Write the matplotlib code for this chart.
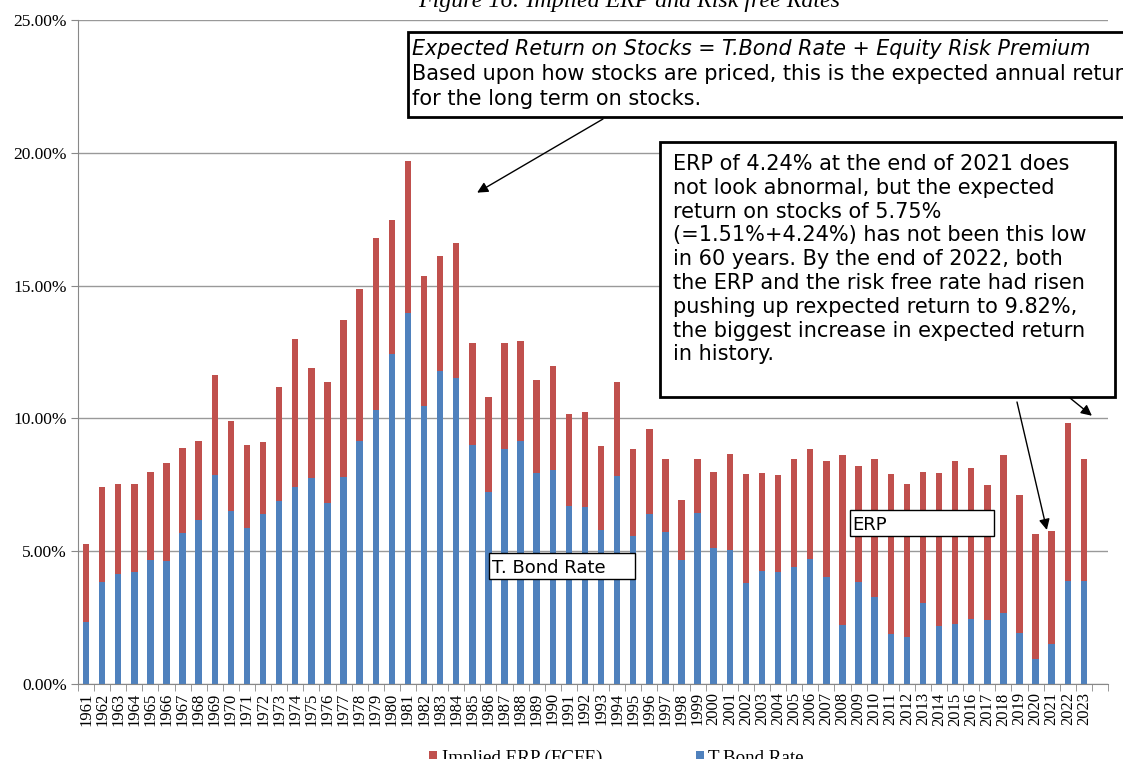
import numpy as np
import matplotlib
matplotlib.use("Agg")
import matplotlib.pyplot as plt
from matplotlib.patches import Rectangle

# data (in %)
years = list(range(1961, 2024))
tbond = [2.35, 3.85, 4.14, 4.21, 4.65, 4.64, 5.70, 6.16, 7.88, 6.50,
         5.89, 6.41, 6.90, 7.40, 7.76, 6.81, 7.78, 9.15, 10.33, 12.43,
         13.98, 10.47, 11.80, 11.51, 8.99, 7.22, 8.86, 9.14, 7.93, 8.07,
         6.70, 6.68, 5.79, 7.82, 5.57, 6.41, 5.74, 4.65, 6.44, 5.11,
         5.05, 3.81, 4.25, 4.22, 4.39, 4.70, 4.02, 2.21, 3.84, 3.29,
         1.88, 1.76, 3.04, 2.17, 2.27, 2.45, 2.41, 2.68, 1.92, 0.93,
         1.51, 3.88, 3.88]
erp = [2.92, 3.56, 3.38, 3.31, 3.32, 3.68, 3.20, 3.00, 3.74, 3.41,
       3.09, 2.72, 4.30, 5.59, 4.13, 4.55, 5.92, 5.72, 6.45, 5.03,
       5.73, 4.90, 4.31, 5.11, 3.84, 3.58, 3.99, 3.77, 3.51, 3.89,
       3.48, 3.55, 3.17, 3.55, 3.29, 3.20, 2.73, 2.26, 2.05, 2.87,
       3.62, 4.10, 3.69, 3.65, 4.08, 4.16, 4.37, 6.43, 4.36, 5.20,
       6.01, 5.78, 4.96, 5.78, 6.12, 5.69, 5.08, 5.96, 5.20, 4.72,
       4.24, 5.94, 4.60]
yticks = [0, 5, 10, 15, 20, 25]

RED = "#C0504D"
BLUE = "#4F81BD"
SERIF = "Liberation Serif"
W, H = 1123, 759


def fx(x):
    return x / W


def fy(y):
    return 1 - y / H


fig = plt.figure(figsize=(W / 100, H / 100), dpi=100)
ax = fig.add_axes([fx(78), fy(684), (1108 - 78) / W, (684 - 20) / H])

x = np.arange(len(years))
b_tb = ax.bar(x, tbond, width=0.4, color=BLUE, label="T.Bond Rate", zorder=2)
b_erp = ax.bar(x, erp, width=0.4, bottom=tbond, color=RED,
               label="Implied ERP (FCFE)", zorder=2)

ax.set_xlim(-0.5, len(years) + 0.5)
ax.set_ylim(0, 25)
ax.set_yticks(yticks)
ax.set_yticklabels(["%.2f%%" % v for v in yticks], fontfamily=SERIF, fontsize=12.5)
ax.yaxis.grid(True, color="#999999", lw=1, zorder=0)
ax.tick_params(axis="y", length=5, color="#888888", pad=3)

ax.set_xticks(x)
ax.set_xticklabels([str(y) for y in years], rotation=90, fontfamily=SERIF,
                   fontsize=12)
ax.set_xticks(np.arange(-0.5, len(years) + 1, 1), minor=True)
ax.tick_params(axis="x", which="major", length=0, pad=6)
ax.tick_params(axis="x", which="minor", length=5, color="#888888")

for s in ["top", "right"]:
    ax.spines[s].set_visible(False)
for s in ["left", "bottom"]:
    ax.spines[s].set_color("#888888")

# title (cut off at top like the source)
fig.text(fx(629), fy(7), "Figure 16: Implied ERP and Risk free Rates",
         ha="center", va="baseline", fontfamily=SERIF, style="italic",
         fontsize=17.3)

# legend
fig.legend(handles=[b_erp, b_tb], loc="center left",
           bbox_to_anchor=(fx(429), fy(758)), ncol=2, frameon=False,
           borderpad=0, borderaxespad=0, handlelength=0.42, handleheight=0.42,
           handletextpad=0.26, columnspacing=4.9,
           prop={"family": SERIF, "size": 13.7})

# box 1
fig.add_artist(Rectangle((fx(408), fy(117)), (1140 - 408) / W, 85 / H,
                         transform=fig.transFigure, fc="white", ec="black",
                         lw=2, zorder=3))
fig.text(fx(412), fy(55), "Expected Return on Stocks = T.Bond Rate + Equity Risk Premium",
         style="italic", fontsize=14.9, va="baseline", zorder=4)
fig.text(fx(412), fy(80), "Based upon how stocks are priced, this is the expected annual return",
         fontsize=15, va="baseline", zorder=4)
fig.text(fx(412), fy(105), "for the long term on stocks.",
         fontsize=15, va="baseline", zorder=4)

# box 2
fig.add_artist(Rectangle((fx(660), fy(397)), (1115 - 660) / W, (397 - 142) / H,
                         transform=fig.transFigure, fc="white", ec="black",
                         lw=2, zorder=3))
note = ["ERP of 4.24% at the end of 2021 does",
        "not look abnormal, but the expected",
        "return on stocks of 5.75%",
        "(=1.51%+4.24%) has not been this low",
        "in 60 years. By the end of 2022, both",
        "the ERP and the risk free rate had risen",
        "pushing up rexpected return to 9.82%,",
        "the biggest increase in expected return",
        "in history."]
for i, line in enumerate(note):
    fig.text(fx(673), fy(170 + i * 23.8), line, fontsize=15,
             va="baseline", zorder=4)

# small label boxes
fig.add_artist(Rectangle((fx(489), fy(579)), (635 - 489) / W, 26 / H,
                         transform=fig.transFigure, fc="white", ec="black",
                         lw=1, zorder=3))
fig.text(fx(492), fy(573), "T. Bond Rate", fontsize=13, va="baseline", zorder=4)
fig.add_artist(Rectangle((fx(850), fy(536)), (994 - 850) / W, 26 / H,
                         transform=fig.transFigure, fc="white", ec="black",
                         lw=1, zorder=3))
fig.text(fx(852), fy(530), "ERP", fontsize=13, va="baseline", zorder=4)

# arrows
arrow = dict(arrowstyle="-|>", color="black", lw=1, mutation_scale=16,
             shrinkA=0, shrinkB=0)
for tip, start in [((24.3, 18.5), (603, 119)),
                   ((59.7, 5.8), (1017, 402)),
                   ((62.5, 10.1), (1070, 398))]:
    ax.annotate("", xy=tip, xycoords="data",
                xytext=(fx(start[0]), fy(start[1])), textcoords="figure fraction",
                arrowprops=arrow, annotation_clip=False, zorder=5)

fig.savefig("out.png", dpi=100)
